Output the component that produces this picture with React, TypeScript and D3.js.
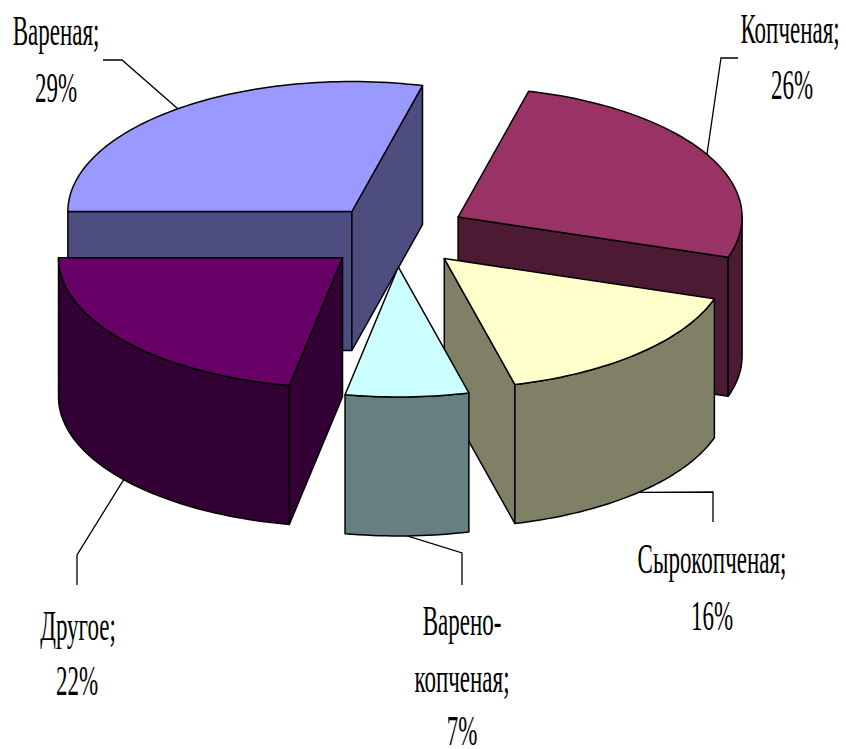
import * as d3 from 'd3';

const categories = ['Копченая', 'Сырокопченая', 'Варено-копченая', 'Другое', 'Вареная'];
const shares = [26, 16, 7, 22, 29];
const topColors = ['#993366', '#ffffcc', '#ccffff', '#660066', '#9999ff'];
const sideColors = ['#4d1a33', '#808066', '#668080', '#330033', '#4d4d80'];
// label lines per slice, plus where each one sits
const labelLines = [
  ['Копченая;', '26%'],
  ['Сырокопченая;', '16%'],
  ['Варено-', 'копченая;', '7%'],
  ['Другое;', '22%'],
  ['Вареная;', '29%'],
];
const labelX = [[790, 792], [712, 712], [462, 462, 462], [78, 77], [56, 56]];
const labelBaselines = [[43, 99], [573, 630], [635, 692, 745], [640, 695], [45, 102]];
const leaderElbows = [
  [[721, 58], [738, 58]],
  [[713, 492], [713, 522]],
  [[462, 553], [462, 585]],
  [[77, 555], [77, 585]],
  [[122, 60], [103, 60]],
];
// small per-slice shift of the explosion, the reference is not quite even
const nudgeX = [-1, -1, 0, 2, 0];
const nudgeY = [-4, 0, 0, 2, 0];
const drawOrder = [4, 0, 1, 3, 2];

const width = 846;
const height = 749;
const cx = 396;
const cy = 236;
const rx = 284;
const ry = 130;
const depth = 139;
const explodeX = 72;
const explodeY = 31;

const pie = d3
  .pie<number>()
  .sort(null)
  .startAngle((14.4 * Math.PI) / 180)
  .endAngle((374.4 * Math.PI) / 180);
const slices = pie(shares);

const lineGen = d3.line();
type Pt = [number, number];

function apexOf(i: number): Pt {
  const mid = (slices[i].startAngle + slices[i].endAngle) / 2;
  return [cx + explodeX * Math.sin(mid) + nudgeX[i], cy - explodeY * Math.cos(mid) + nudgeY[i]];
}

function arcPoints(ax: number, ay: number, a0: number, a1: number): Pt[] {
  const n = Math.max(2, Math.ceil(Math.abs(a1 - a0) * 40));
  return d3.range(n + 1).map((i) => {
    const a = a0 + ((a1 - a0) * i) / n;
    return [ax + rx * Math.sin(a), ay - ry * Math.cos(a)] as Pt;
  });
}

function wall(points: Pt[]) {
  const lower = points.map(([x, y]) => [x, y + depth] as Pt).reverse();
  return lineGen([...points, ...lower]) + 'Z';
}

function Slice({ i }: { i: number }) {
  const s = slices[i];
  const apex = apexOf(i);
  const [ax, ay] = apex;
  const start = arcPoints(ax, ay, s.startAngle, s.startAngle)[0];
  const end = arcPoints(ax, ay, s.endAngle, s.endAngle)[0];
  const walls: string[] = [];
  if (start[0] < ax) walls.push(wall([apex, start]));
  if (end[0] > ax) walls.push(wall([end, apex]));
  // only the part of the rim that faces the viewer
  const lo = Math.max(s.startAngle, Math.PI / 2);
  const hi = Math.min(s.endAngle, (3 * Math.PI) / 2);
  if (hi > lo) walls.push(wall(arcPoints(ax, ay, lo, hi)));
  const top = lineGen([apex, ...arcPoints(ax, ay, s.startAngle, s.endAngle)]) + 'Z';
  return (
    <g stroke="#000" strokeWidth={1.5} strokeLinejoin="round">
      {walls.map((d, k) => (
        <path key={k} d={d} fill={sideColors[i]} />
      ))}
      <path d={top} fill={topColors[i]} />
    </g>
  );
}

function Leader({ i }: { i: number }) {
  const s = slices[i];
  const mid = (s.startAngle + s.endAngle) / 2;
  const [ax, ay] = apexOf(i);
  const [p] = arcPoints(ax, ay, mid, mid);
  const onFront = Math.cos(mid) < 0;
  const anchor: Pt = [p[0], p[1] + (onFront ? depth : 0)];
  return (
    <path
      d={lineGen([anchor, ...(leaderElbows[i] as Pt[])]) as string}
      fill="none"
      stroke="#000"
      strokeWidth={1.3}
    />
  );
}

function Label({ i }: { i: number }) {
  return (
    <g fontFamily="'Liberation Serif', serif" fontSize={23} fill="#000" textAnchor="middle">
      {labelLines[i].map((t, k) => (
        <text key={k} transform={`translate(${labelX[i][k]},${labelBaselines[i][k]}) scale(1,1.8)`}>
          {t}
        </text>
      ))}
    </g>
  );
}

export default function App() {
  return (
    <svg
      width={width}
      height={height}
      viewBox={`0 0 ${width} ${height}`}
      style={{ position: 'absolute', left: 0, top: 0, background: '#fff' }}
      role="img"
      aria-label={categories.join(', ')}
    >
      {categories.map((_, i) => (
        <Leader key={i} i={i} />
      ))}
      {drawOrder.map((i) => (
        <Slice key={i} i={i} />
      ))}
      {categories.map((_, i) => (
        <Label key={i} i={i} />
      ))}
    </svg>
  );
}
